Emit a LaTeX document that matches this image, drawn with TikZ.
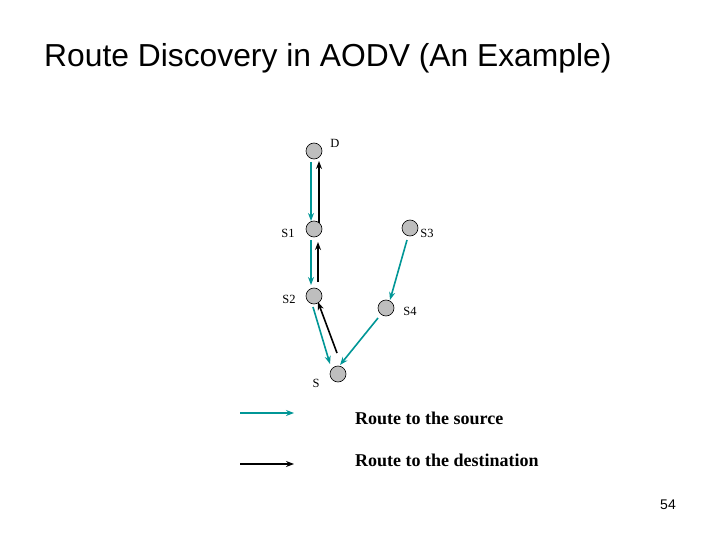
\documentclass[tikz,border=0pt]{standalone}
\usepackage{fontspec}
\setmainfont{Liberation Serif}
\newfontfamily\titlefont{Liberation Sans}
\usetikzlibrary{arrows.meta}
\definecolor{teal1}{RGB}{0,150,150}
\definecolor{nodegray}{RGB}{190,190,190}
\tikzset{
  hostnode/.style={circle,draw=black,line width=0.6pt,fill=nodegray,minimum size=16pt,inner sep=0pt},
  lab/.style={font=\fontsize{12.5}{14}\selectfont,inner sep=0pt},
  tealarrow/.style={draw=teal1,line width=1.6pt,-{Stealth[length=8pt,width=6pt]}},
  blackarrow/.style={draw=black,line width=1.6pt,-{Stealth[length=8pt,width=6pt]}},
  legendtext/.style={font=\bfseries\fontsize{18}{21}\selectfont,anchor=west,inner sep=0pt}
}
\begin{document}
\begin{tikzpicture}[x=1pt,y=-1pt]
\useasboundingbox (0,0) rectangle (720,540);
\node[anchor=west,inner sep=0pt,font=\titlefont\fontsize{31.8}{36}\selectfont] (title) at (44,58) {Route Discovery in AODV (An Example)};
% hosts
\node[hostnode] (D) at (314,151) {};
\node[hostnode] (S1) at (314,229) {};
\node[hostnode] (S3) at (410,228) {};
\node[hostnode] (S2) at (314,296) {};
\node[hostnode] (S4) at (386,308) {};
\node[hostnode] (S) at (338,374) {};
% labels
\node[lab] (lD) at (335,143) {D};
\node[lab] (lS1) at (288,233) {S1};
\node[lab] (lS3) at (427,233) {S3};
\node[lab] (lS2) at (289,299) {S2};
\node[lab] (lS4) at (410,311) {S4};
\node[lab] (lS) at (316,383) {S};
% arrows
\draw[tealarrow] ([shift={(-3,11)}]D.center) -- ([shift={(-3,-8)}]S1.center);
\draw[blackarrow] ([shift={(5,-6)}]S1.center) -- ([shift={(5,10)}]D.center);
\draw[tealarrow] ([shift={(-3,11)}]S1.center) -- ([shift={(-3,-11)}]S2.center);
\draw[blackarrow] ([shift={(4,-14)}]S2.center) -- ([shift={(4,13)}]S1.center);
\draw[tealarrow] ([shift={(-3,12)}]S3.center) -- ([shift={(4,-8)}]S4.center);
\draw[tealarrow] ([shift={(-1,11)}]S2.center) -- ([shift={(-8,-10)}]S.center);
\draw[blackarrow] ([shift={(-1,-21)}]S.center) -- ([shift={(4,6)}]S2.center);
\draw[tealarrow] ([shift={(-8,10)}]S4.center) -- ([shift={(2,-9)}]S.center);
% legend
\coordinate (t1) at (240,413);
\coordinate (t2) at (294,413);
\coordinate (b1) at (240,464);
\coordinate (b2) at (294,464);
\draw[tealarrow] (t1) -- (t2);
\draw[blackarrow] (b1) -- (b2);
\node[legendtext] (ls) at (355,418) {Route to the source};
\node[legendtext] (ld) at (355,460) {Route to the destination};
\node[font=\titlefont\fontsize{14}{16}\selectfont,inner sep=0pt] (pg) at (668,505) {54};
\end{tikzpicture}
\end{document}
